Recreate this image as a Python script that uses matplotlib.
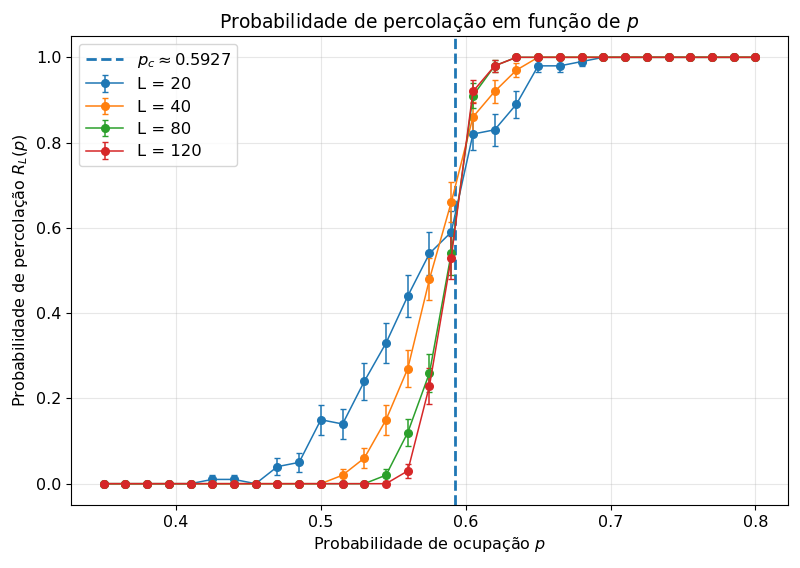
import numpy as np
import matplotlib
matplotlib.use("Agg")
import matplotlib.pyplot as plt

p = [0.35, 0.365, 0.38, 0.395, 0.41, 0.425, 0.44, 0.455, 0.47, 0.485, 0.5,
     0.515, 0.53, 0.545, 0.56, 0.575, 0.59, 0.605, 0.62, 0.635, 0.65, 0.665,
     0.68, 0.695, 0.71, 0.725, 0.74, 0.755, 0.77, 0.785, 0.8]

R20 = [0, 0, 0, 0, 0, 0.01, 0.01, 0, 0.04, 0.05, 0.15, 0.14, 0.24, 0.33, 0.44,
       0.54, 0.59, 0.82, 0.83, 0.89, 0.98, 0.98, 0.99, 1, 1, 1, 1, 1, 1, 1, 1]
R40 = [0, 0, 0, 0, 0, 0, 0, 0, 0, 0, 0, 0.02, 0.06, 0.15, 0.27,
       0.48, 0.66, 0.86, 0.92, 0.97, 1, 1, 1, 1, 1, 1, 1, 1, 1, 1, 1]
R80 = [0, 0, 0, 0, 0, 0, 0, 0, 0, 0, 0, 0, 0, 0.02, 0.12,
       0.26, 0.54, 0.91, 0.98, 1, 1, 1, 1, 1, 1, 1, 1, 1, 1, 1, 1]
R120 = [0, 0, 0, 0, 0, 0, 0, 0, 0, 0, 0, 0, 0, 0, 0.03,
        0.23, 0.53, 0.92, 0.98, 1, 1, 1, 1, 1, 1, 1, 1, 1, 1, 1, 1]

sizes = [20, 40, 80, 120]
n_samples = 100
pc = 0.5927

plt.rcParams["font.size"] = 11.5
fig, ax = plt.subplots(figsize=(8, 5.68), dpi=100)
fig.subplots_adjust(left=71/800, right=788/800, top=1-36/568, bottom=1-505/568)
ax.axvline(pc, color="C0", ls="--", lw=2, label=r"$p_c \approx 0.5927$")
for L, R in zip(sizes, [R20, R40, R80, R120]):
    R = np.array(R, dtype=float)
    err = np.sqrt(R * (1 - R) / n_samples)
    ax.errorbar(p, R, yerr=err, marker="o", ms=5.5, lw=1.1, capsize=2.2,
                label=f"L = {L}")
ax.set_xlabel("Probabilidade de ocupação $p$")
ax.set_ylabel("Probabilidade de percolação $R_L(p)$")
ax.set_title("Probabilidade de percolação em função de $p$", fontsize=13.5)
ax.grid(True, alpha=0.3)
ax.legend(loc="upper left", fontsize=11.8, handlelength=2.3, labelspacing=0.45)
fig.savefig("out.png", dpi=100)
